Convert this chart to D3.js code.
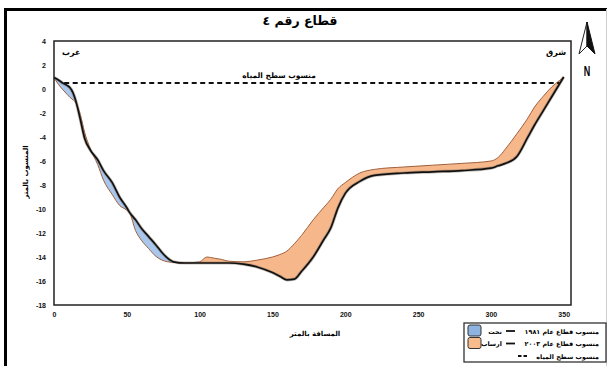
<!DOCTYPE html>
<html>
<head>
<meta charset="utf-8">
<script src="https://cdn.jsdelivr.net/npm/d3@7"></script>
<style>
  html, body { margin: 0; padding: 0; background: #fff; }
  svg { display: block; }
  .ar { font-family: "DejaVu Sans", sans-serif; font-weight: bold; }
  .num { font-family: "Liberation Sans", Arial, sans-serif; font-weight: bold; }
</style>
</head>
<body>
<svg id="chart" width="610" height="366"></svg>
<script>
// Cross-section No. 4: bed profile in 1981 and 2003, distance in metres
const distance = [0,3,6,9,11,13,15,18,21,25,30,34,40,45,50,52,56,60,65,70,
  74,78,82,90,100,105,110,115,120,130,140,150,155,160,165,170,178,185,190,195,
  200,210,220,240,260,280,300,305,310,318,325,330,336,342,347,350];
const level1981 = [0.95,0.75,0.5,0.3,0.1,-0.3,-1.0,-2.5,-4.1,-5.1,-5.9,-6.8,-7.8,-9.0,-9.9,-10.3,-10.9,-11.6,-12.3,-13.0,
  -13.6,-14.1,-14.4,-14.5,-14.5,-14.5,-14.5,-14.5,-14.5,-14.6,-14.85,-15.3,-15.6,-15.9,-15.85,-15.2,-14.0,-12.6,-11.6,-9.9,
  -8.7,-7.7,-7.2,-7.0,-6.9,-6.8,-6.6,-6.4,-6.2,-5.6,-4.1,-3.0,-1.8,-0.6,0.4,1.0];
const level2003 = [0.95,0.4,-0.05,-0.45,-0.7,-0.9,-1.15,-2.1,-3.6,-5.0,-6.3,-7.6,-8.8,-9.7,-10.1,-10.35,-11.8,-12.6,-13.3,-13.95,
  -14.25,-14.4,-14.45,-14.5,-14.4,-14.0,-14.1,-14.2,-14.35,-14.4,-14.25,-14.0,-13.8,-13.5,-12.9,-12.2,-10.9,-9.9,-9.2,-8.3,
  -7.8,-7.0,-6.7,-6.5,-6.35,-6.2,-6.0,-5.7,-5.0,-3.7,-2.5,-1.5,-0.6,0.2,0.7,1.0];
const waterLevel = 0.5;
const waterExtent = [7, 347];
const xTicks = [0,50,100,150,200,250,300,350];
const yTicks = [4,2,0,-2,-4,-6,-8,-10,-12,-14,-16,-18];

const title = "قطاع رقم ٤";
const xTitle = "المسافة بالمتر";
const yTitle = "المنسوب بالمتر";
const westLabel = "غرب";
const eastLabel = "شرق";
const waterLabel = "منسوب سطح المياه";
const legendRows = [
  { swatch: "#8fb3e0", kind: "نحت", line: "منسوب قطاع عام ١٩٨١" },
  { swatch: "#f7bb8c", kind: "ارساب", line: "منسوب قطاع عام ٢٠٠٣" },
  { swatch: null, kind: null, line: "منسوب سطح المياه" }
];

const rows = distance.map((d, i) => ({ d, a: level1981[i], b: level2003[i] }));

const svg = d3.select("#chart");
const m = { left: 54, right: 571, top: 41, bottom: 305 };
const x = d3.scaleLinear().domain([0, 355]).range([m.left, m.right]);
const y = d3.scaleLinear().domain([-18, 4]).range([m.bottom, m.top]);

// outer frame
svg.append("line").attr("x1", 5.5).attr("x2", 5.5).attr("y1", 8).attr("y2", 366)
  .attr("stroke", "#000").attr("stroke-width", 3);
svg.append("line").attr("x1", 4).attr("x2", 607).attr("y1", 9.5).attr("y2", 9.5)
  .attr("stroke", "#000").attr("stroke-width", 3);
svg.append("line").attr("x1", 606.5).attr("x2", 606.5).attr("y1", 9).attr("y2", 366)
  .attr("stroke", "#cfcfcf").attr("stroke-width", 1);

// title
svg.append("text").attr("class", "ar").attr("x", 300).attr("y", 25)
  .attr("text-anchor", "middle").attr("font-size", 12.5).text(title);

const curve = d3.curveMonotoneX;

// erosion (2003 below 1981) and deposition (2003 above 1981)
svg.append("path").datum(rows)
  .attr("d", d3.area().curve(curve).x(r => x(r.d)).y0(r => y(r.a)).y1(r => y(Math.min(r.a, r.b))))
  .attr("fill", "#a9c6ec").attr("stroke", "none");
svg.append("path").datum(rows)
  .attr("d", d3.area().curve(curve).x(r => x(r.d)).y0(r => y(r.a)).y1(r => y(Math.max(r.a, r.b))))
  .attr("fill", "#f6b88a").attr("stroke", "none");

// 2003 profile
svg.append("path").datum(rows)
  .attr("d", d3.line().curve(curve).x(r => x(r.d)).y(r => y(r.b)))
  .attr("fill", "none").attr("stroke", "#a0603d").attr("stroke-width", 1);

// 1981 profile with soft shadow
svg.append("path").datum(rows)
  .attr("d", d3.line().curve(curve).x(r => x(r.d)).y(r => y(r.a)))
  .attr("fill", "none").attr("stroke", "#7a6a60").attr("stroke-opacity", 0.45)
  .attr("stroke-width", 3.2);
svg.append("path").datum(rows)
  .attr("d", d3.line().curve(curve).x(r => x(r.d)).y(r => y(r.a)))
  .attr("fill", "none").attr("stroke", "#111").attr("stroke-width", 1.7);

// water level
svg.append("line")
  .attr("x1", x(waterExtent[0])).attr("x2", x(waterExtent[1]))
  .attr("y1", y(waterLevel)).attr("y2", y(waterLevel))
  .attr("stroke", "#111").attr("stroke-width", 1.8).attr("stroke-dasharray", "5,3.5");
svg.append("text").attr("class", "ar").attr("x", 279).attr("y", y(waterLevel) - 5)
  .attr("text-anchor", "middle").attr("font-size", 7.5).text(waterLabel);

// plot frame
svg.append("rect").attr("x", m.left).attr("y", m.top)
  .attr("width", m.right - m.left).attr("height", m.bottom - m.top)
  .attr("fill", "none").attr("stroke", "#222").attr("stroke-width", 1.5);

// axes (labels only)
const yAxis = svg.append("g").attr("transform", `translate(${m.left},0)`)
  .call(d3.axisLeft(y).tickValues(yTicks).tickSize(0).tickPadding(8).tickFormat(d => d));
yAxis.select(".domain").remove();
yAxis.selectAll("text").attr("class", "num").attr("font-size", 7).attr("fill", "#111");

const xAxis = svg.append("g").attr("transform", `translate(0,${m.bottom})`)
  .call(d3.axisBottom(x).tickValues(xTicks).tickSize(0).tickPadding(7).tickFormat(d => d));
xAxis.select(".domain").remove();
xAxis.selectAll("text").attr("class", "num").attr("font-size", 7).attr("fill", "#111");

svg.append("text").attr("class", "ar").attr("x", 315).attr("y", 336)
  .attr("text-anchor", "middle").attr("font-size", 7).text(xTitle);
svg.append("text").attr("class", "ar")
  .attr("transform", "translate(28,172) rotate(-90)")
  .attr("text-anchor", "middle").attr("font-size", 7).text(yTitle);

// direction labels
svg.append("text").attr("class", "ar").attr("x", 62).attr("y", 55)
  .attr("font-size", 8).text(westLabel);
svg.append("text").attr("class", "ar").attr("x", 566).attr("y", 55)
  .attr("text-anchor", "end").attr("font-size", 8).text(eastLabel);

// north arrow
const na = svg.append("g");
na.append("path").attr("d", "M587,22 L579,54 L587,46 Z")
  .attr("fill", "#fff").attr("stroke", "#222").attr("stroke-width", 1);
na.append("path").attr("d", "M587,22 L595,54 L587,46 Z")
  .attr("fill", "#111").attr("stroke", "#111").attr("stroke-width", 1);
na.append("text").attr("x", 587).attr("y", 76).attr("text-anchor", "middle")
  .attr("font-family", "Liberation Sans Narrow, Liberation Sans, sans-serif")
  .attr("font-weight", "bold").attr("font-size", 12).attr("transform", "translate(587,76) scale(0.75,1.2) translate(-587,-76)")
  .text("N");

// legend
const lg = svg.append("g");
lg.append("rect").attr("x", 464).attr("y", 323).attr("width", 142).attr("height", 39)
  .attr("fill", "#fff").attr("stroke", "#333").attr("stroke-width", 1.3);
legendRows.forEach((r, i) => {
  const cy = 331 + i * 12.5;
  lg.append("text").attr("class", "ar").attr("x", 599).attr("y", cy + 2.5)
    .attr("text-anchor", "end").attr("font-size", 6.4).text(r.line);
  if (r.swatch) {
    lg.append("line").attr("x1", 506).attr("x2", 515).attr("y1", cy).attr("y2", cy)
      .attr("stroke", "#111").attr("stroke-width", 1.8);
    lg.append("text").attr("class", "ar").attr("x", 502).attr("y", cy + 2.5)
      .attr("text-anchor", "end").attr("font-size", 6.4).text(r.kind);
    lg.append("rect").attr("x", 468).attr("y", cy - 6).attr("width", 13).attr("height", 11)
      .attr("rx", 2).attr("fill", r.swatch).attr("stroke", "#333").attr("stroke-width", 1);
  } else {
    lg.append("line").attr("x1", 518).attr("x2", 527).attr("y1", cy).attr("y2", cy)
      .attr("stroke", "#111").attr("stroke-width", 1.8).attr("stroke-dasharray", "3.5,2");
  }
});
</script>
</body>
</html>
